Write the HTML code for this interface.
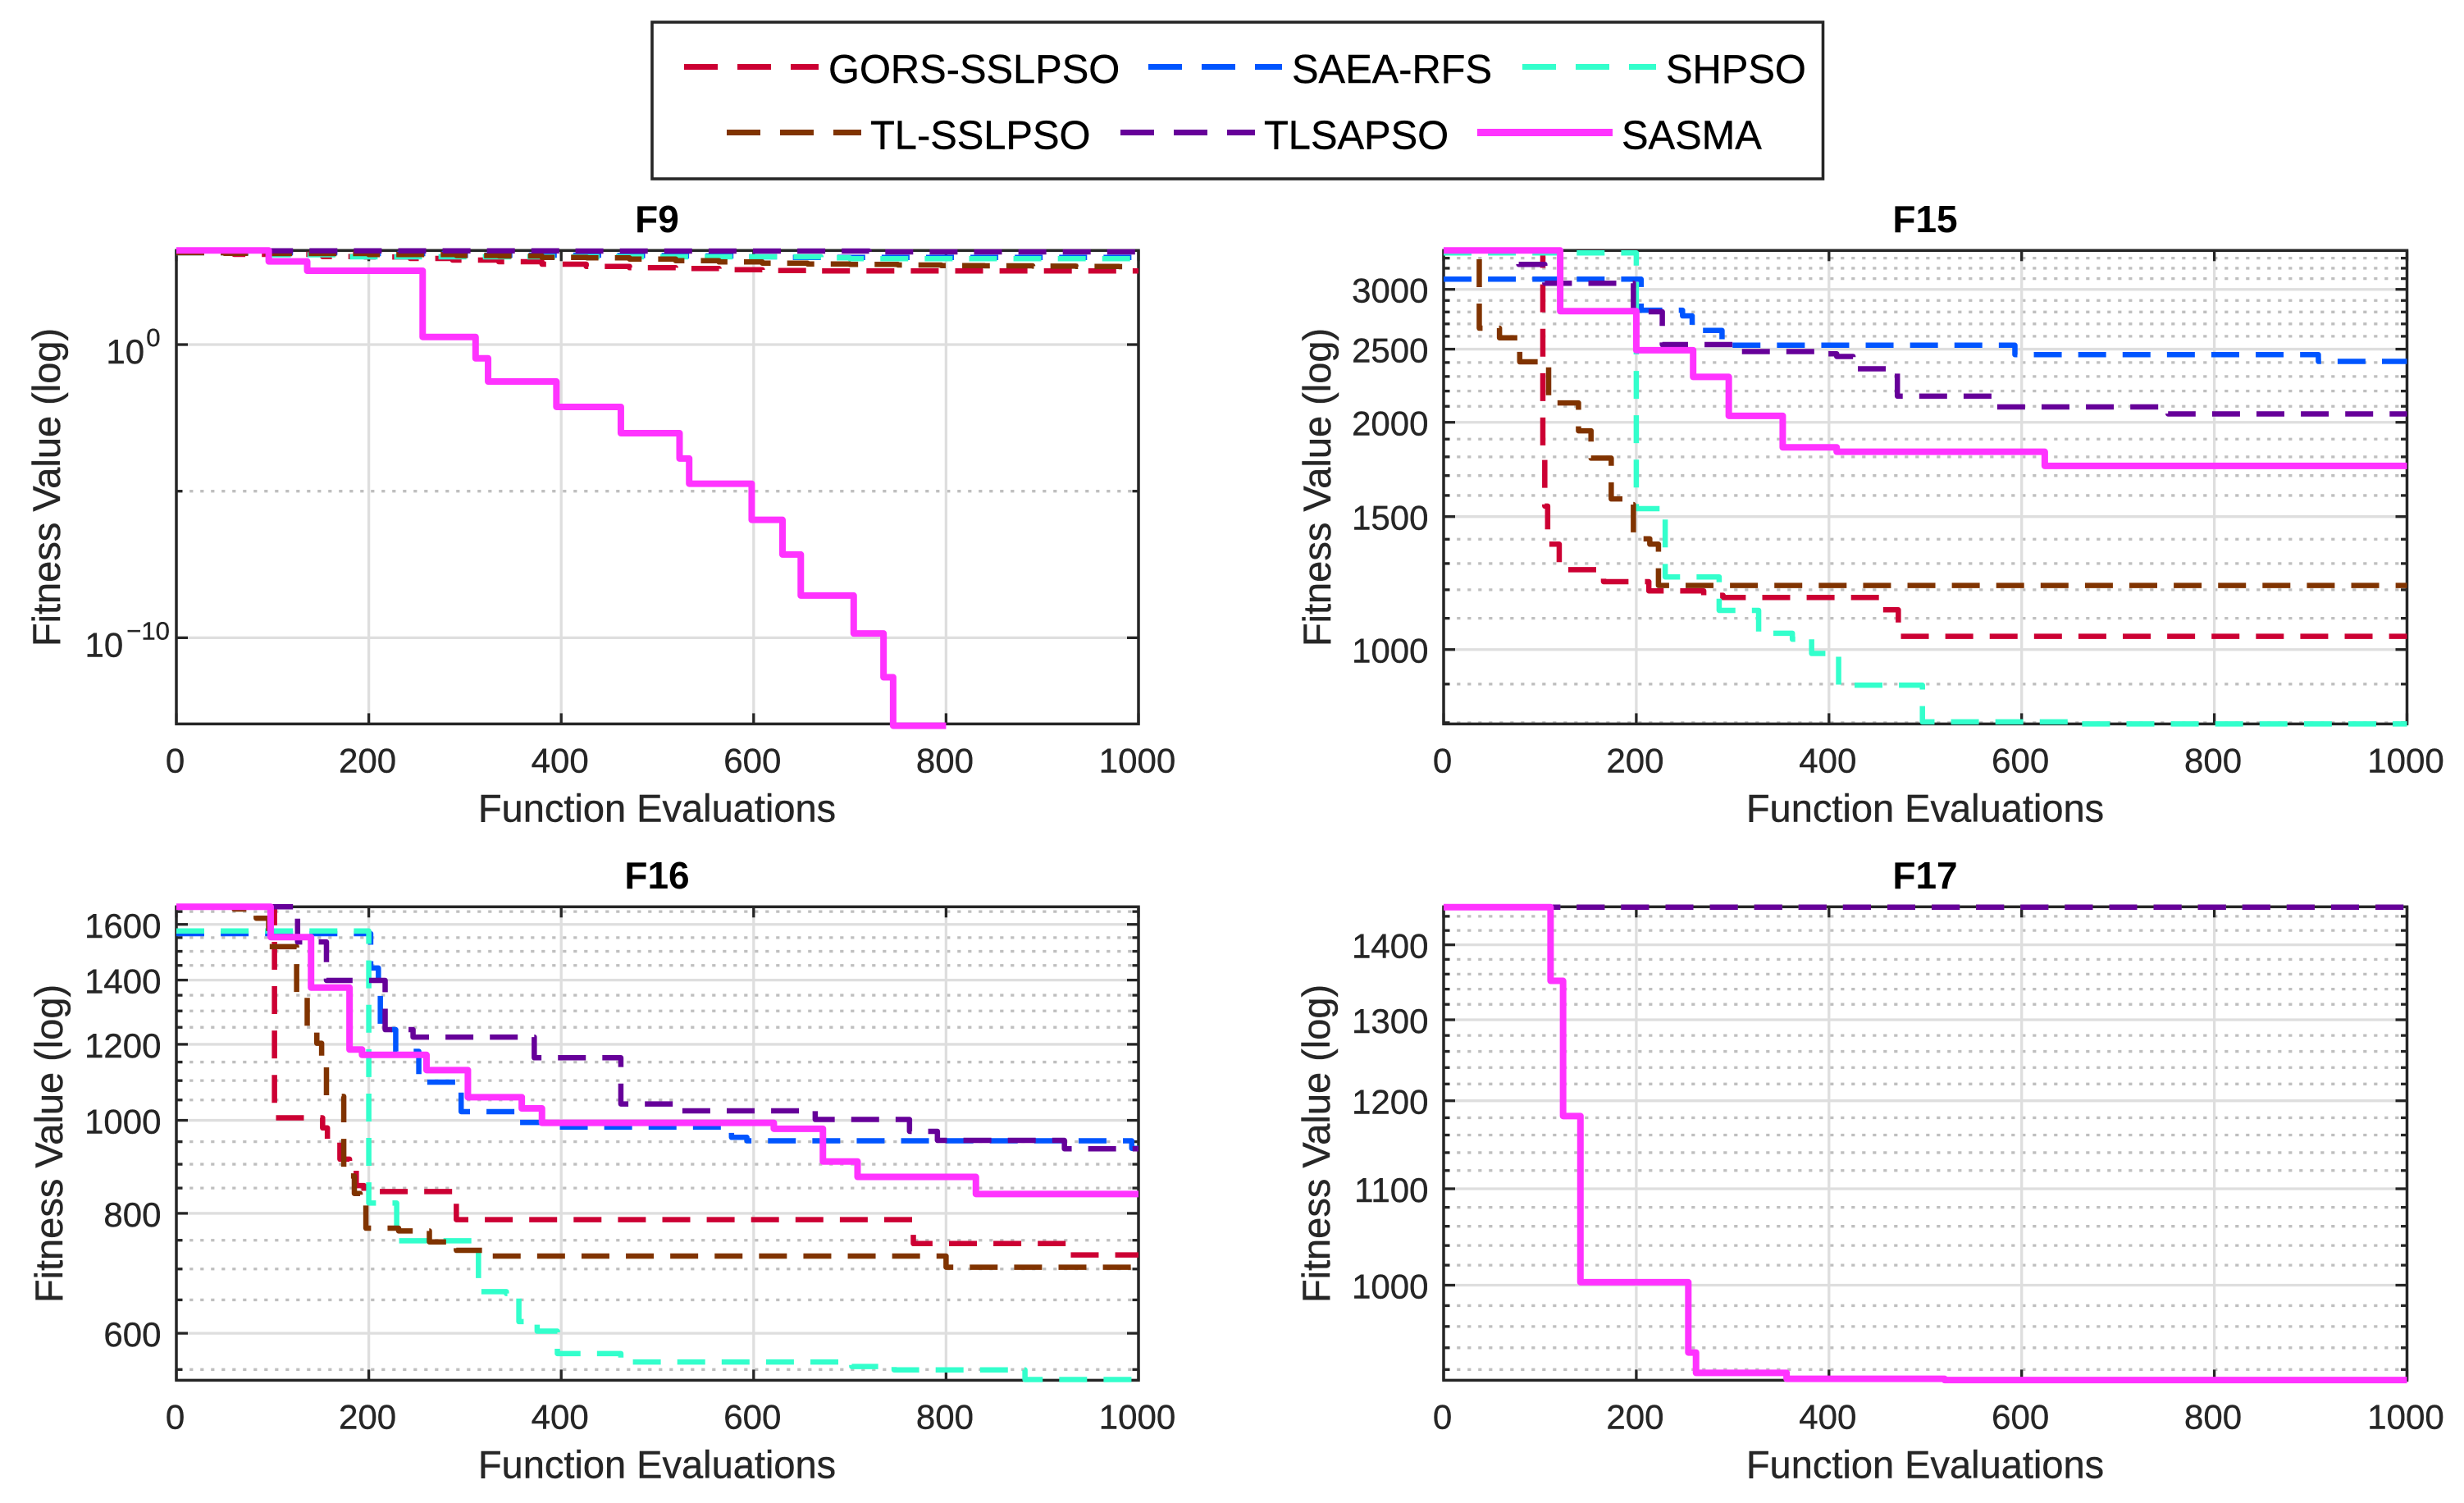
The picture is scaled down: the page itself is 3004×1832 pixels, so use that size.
<!DOCTYPE html>
<html lang="en">
<head>
<meta charset="utf-8">
<title>Convergence curves F9, F15, F16, F17</title>
<style>
html,body{margin:0;padding:0;background:#fff;}
svg{display:block;}
text{font-family:"Liberation Sans",Arial,sans-serif;fill:#262626;stroke:#262626;stroke-width:0.4px;}
.tick{font-size:42px;}
.sup{font-size:31px;}
.axis-title{font-size:47px;}
.panel-title{font-size:46px;font-weight:bold;fill:#000;stroke:none;}
.legend-text{font-size:48.8px;fill:#000;stroke:#000;}
</style>
</head>
<body>
<svg id="figure" xmlns="http://www.w3.org/2000/svg" width="3004" height="1832" viewBox="0 0 3004 1832">
  <rect x="0" y="0" width="3004" height="1832" fill="#ffffff"/>

  <g>
    <rect x="795" y="27" width="1427.5" height="191" fill="#fff" stroke="#262626" stroke-width="3.6"/>
    <g>
      <line x1="834" y1="81.5" x2="998" y2="81.5" stroke="#CC0033" stroke-width="7" stroke-dasharray="41 24"/>
      <text class="legend-text" x="1010" y="101">GORS-SSLPSO</text>
    </g>
    <g>
      <line x1="1400" y1="81.5" x2="1563" y2="81.5" stroke="#0055FF" stroke-width="7" stroke-dasharray="41 24"/>
      <text class="legend-text" x="1575" y="101">SAEA-RFS</text>
    </g>
    <g>
      <line x1="1856" y1="81.5" x2="2019" y2="81.5" stroke="#33FFCC" stroke-width="7" stroke-dasharray="41 24"/>
      <text class="legend-text" x="2031" y="101">SHPSO</text>
    </g>
    <g>
      <line x1="886" y1="161.5" x2="1050" y2="161.5" stroke="#803300" stroke-width="7" stroke-dasharray="41 24"/>
      <text class="legend-text" x="1061" y="181.5">TL-SSLPSO</text>
    </g>
    <g>
      <line x1="1366" y1="161.5" x2="1530" y2="161.5" stroke="#660099" stroke-width="7" stroke-dasharray="41 24"/>
      <text class="legend-text" x="1541" y="181.5">TLSAPSO</text>
    </g>
    <g>
      <line x1="1801" y1="161.5" x2="1966" y2="161.5" stroke="#FF33FF" stroke-width="9"/>
      <text class="legend-text" x="1977" y="181.5">SASMA</text>
    </g>
  </g>

  <g id="panel-f9">
    <text class="panel-title" x="801" y="283" text-anchor="middle">F9</text>
    <text class="axis-title" x="801" y="1001.5" text-anchor="middle">Function Evaluations</text>
    <text class="axis-title" transform="translate(73 594) rotate(-90)" text-anchor="middle">Fitness Value (log)</text>
  </g>
  <g id="panel-f15">
    <text class="panel-title" x="2347" y="283" text-anchor="middle">F15</text>
    <text class="axis-title" x="2347" y="1001.5" text-anchor="middle">Function Evaluations</text>
    <text class="axis-title" transform="translate(1622 594) rotate(-90)" text-anchor="middle">Fitness Value (log)</text>
  </g>
  <g id="panel-f16">
    <text class="panel-title" x="801" y="1083" text-anchor="middle">F16</text>
    <text class="axis-title" x="801" y="1801.5" text-anchor="middle">Function Evaluations</text>
    <text class="axis-title" transform="translate(76 1394) rotate(-90)" text-anchor="middle">Fitness Value (log)</text>
  </g>
  <g id="panel-f17">
    <text class="panel-title" x="2347" y="1083" text-anchor="middle">F17</text>
    <text class="axis-title" x="2347" y="1801.5" text-anchor="middle">Function Evaluations</text>
    <text class="axis-title" transform="translate(1621 1394) rotate(-90)" text-anchor="middle">Fitness Value (log)</text>
  </g>
</svg>

<script>
/* ---------- shared axis data ---------- */
const xTickValues = [0, 200, 400, 600, 800, 1000];

/* ---------- F9 ---------- */
const f9YMajor = [1e-10, 1];
const f9YMinor = [1e-5];
const f9YExponents = ["\u221210", "0"];
const f9GorsX = [0, 60, 152, 196, 243, 287, 335, 380, 426, 471, 519, 564, 609, 656];
const f9GorsY = [1549, 1199, 1007, 968, 869, 764, 671, 553, 465, 419, 393, 359, 337, 324];
const f9SaeaX = [0, 200, 300, 450, 520, 590, 640];
const f9SaeaY = [1365, 1279, 1125, 1089, 1054, 988, 944];
const f9ShpsoX = [0, 100, 180, 670, 700];
const f9ShpsoY = [1365, 1161, 988, 908, 851];
const f9TlX = [0, 50, 100, 200, 291, 335, 380, 427, 471, 519, 564, 609, 656, 700, 750, 795, 840, 890, 935, 980];
const f9TlY = [1365, 1303, 1279, 1175, 1089, 1054, 944, 908, 830, 729, 658, 601, 564, 542, 519, 495, 486, 476, 465, 456];
const f9TlsapsoX = [0, 400, 720];
const f9TlsapsoY = [1581, 1549, 1455];
const f9SasmaX = [0, 96, 136, 256, 311, 324, 395, 462, 523, 533, 598, 630, 649, 704, 735, 745, 800];
const f9SasmaY = [1622, 685, 330, 1.82, 0.34, 0.055, 7.5e-3, 9.5e-4, 1.3e-4, 1.8e-5, 1.05e-6, 6.9e-8, 2.75e-9, 1.4e-10, 4.5e-12, 1e-13, 1e-13];

/* ---------- F15 ---------- */
const f15YMajor = [1000, 1500, 2000, 2500, 3000];
const f15YMinor = [800, 900, 1100, 1200, 1300, 1400, 1600, 1700, 1800, 1900, 2100, 2200, 2300, 2400, 2600, 2700, 2800, 2900, 3100, 3200, 3300];
const f15GorsX = [0, 103, 105, 108, 120, 123, 166, 213, 270, 290, 453, 472];
const f15GorsY = [3378, 1787, 1549, 1379, 1290, 1276, 1230, 1196, 1180, 1172, 1129, 1041];
const f15SaeaX = [0, 205, 248, 258, 289, 593, 908];
const f15SaeaY = [3095, 2815, 2767, 2647, 2530, 2459, 2408];
const f15ShpsoX = [0, 200, 230, 286, 327, 362, 382, 410, 497, 655];
const f15ShpsoY = [3353, 1537, 1248, 1127, 1051, 1032, 988, 897, 802, 797];
const f15TlX = [0, 37, 58, 79, 109, 140, 153, 174, 186, 197, 214, 223];
const f15TlY = [3378, 2665, 2588, 2405, 2122, 1949, 1793, 1583, 1556, 1402, 1379, 1216];
const f15TlsapsoX = [0, 78, 105, 197, 227, 301, 390, 408, 425, 471, 572, 752];
const f15TlsapsoY = [3378, 3238, 3057, 2802, 2535, 2482, 2465, 2445, 2355, 2166, 2096, 2052];
const f15SasmaX = [0, 121, 200, 259, 296, 352, 408, 624];
const f15SasmaY = [3378, 2807, 2492, 2297, 2040, 1853, 1828, 1751];

/* ---------- F16 ---------- */
const f16YMajor = [600, 800, 1000, 1200, 1400, 1600];
const f16YMinor = [550, 650, 700, 750, 850, 900, 950, 1050, 1100, 1150, 1250, 1300, 1350, 1450, 1500, 1550, 1650];
const f16GorsX = [0, 102, 152, 157, 170, 180, 187, 195, 291, 766, 928];
const f16GorsY = [1669, 1006, 982, 953, 911, 902, 855, 843, 788, 744, 724];
const f16SaeaX = [0, 202, 210, 212, 228, 252, 259, 296, 356, 393, 577, 593, 993];
const f16SaeaY = [1565, 1441, 1350, 1243, 1180, 1116, 1096, 1021, 995, 984, 960, 952, 935];
const f16ShpsoX = [0, 200, 229, 314, 343, 356, 375, 396, 462, 702, 746, 882];
const f16ShpsoY = [1575, 820, 749, 663, 660, 617, 603, 571.5, 560, 554, 549.5, 537];
const f16TlX = [0, 60, 83, 96, 125, 136, 146, 151, 156, 174, 185, 191, 197, 231, 263, 291, 326, 800];
const f16TlY = [1669, 1660, 1624, 1517, 1343, 1239, 1203, 1149, 1059, 875, 839, 822, 772, 767, 747, 732, 722, 703];
const f16TlsapsoX = [0, 126, 156, 217, 246, 372, 462, 525, 664, 762, 791, 923];
const f16TlsapsoY = [1669, 1534, 1399, 1243, 1221, 1162, 1040, 1023, 1002, 974, 953, 934];
const f16SasmaX = [0, 98, 140, 180, 193, 260, 303, 359, 380, 621, 672, 708, 831];
const f16SasmaY = [1669, 1552, 1375, 1185, 1170, 1128, 1057, 1029, 994, 980, 906, 873, 838];

/* ---------- F17 ---------- */
const f17YMajor = [1000, 1100, 1200, 1300, 1400];
const f17YMinor = [920, 940, 960, 980, 1020, 1040, 1060, 1080, 1120, 1140, 1160, 1180, 1220, 1240, 1260, 1280, 1320, 1340, 1360, 1380, 1420, 1440];
const f17GorsX = [0];
const f17GorsY = [1453];
const f17SaeaX = [0];
const f17SaeaY = [1453];
const f17ShpsoX = [0];
const f17ShpsoY = [1453];
const f17TlX = [0];
const f17TlY = [1453];
const f17TlsapsoX = [0];
const f17TlsapsoY = [1453];
const f17SasmaX = [0, 111, 124, 142, 254, 262, 356, 520];
const f17SasmaY = [1453, 1351, 1182, 1003, 935.6, 917, 911.6, 910.5];

/* ---------- series styling ---------- */
const seriesNames = ["gors-sslpso", "saea-rfs", "shpso", "tl-sslpso", "tlsapso", "sasma"];
const seriesColors = ["#CC0033", "#0055FF", "#33FFCC", "#803300", "#660099", "#FF33FF"];

/* ---------- panels ---------- */
const panels = [
  { id: "f9", x0: 215, x1: 1388, yTop: 305.3, yBottom: 882.4, yMin: 1.15e-13, yMax: 1622,
    major: f9YMajor, minor: f9YMinor, exponents: f9YExponents,
    xs: [f9GorsX, f9SaeaX, f9ShpsoX, f9TlX, f9TlsapsoX, f9SasmaX],
    ys: [f9GorsY, f9SaeaY, f9ShpsoY, f9TlY, f9TlsapsoY, f9SasmaY], sasmaEnd: 800 },
  { id: "f15", x0: 1760, x1: 2934.5, yTop: 305.3, yBottom: 882.4, yMin: 797, yMax: 3378,
    major: f15YMajor, minor: f15YMinor,
    xs: [f15GorsX, f15SaeaX, f15ShpsoX, f15TlX, f15TlsapsoX, f15SasmaX],
    ys: [f15GorsY, f15SaeaY, f15ShpsoY, f15TlY, f15TlsapsoY, f15SasmaY], sasmaEnd: 1000 },
  { id: "f16", x0: 215, x1: 1388, yTop: 1105.3, yBottom: 1682.4, yMin: 536, yMax: 1669,
    major: f16YMajor, minor: f16YMinor,
    xs: [f16GorsX, f16SaeaX, f16ShpsoX, f16TlX, f16TlsapsoX, f16SasmaX],
    ys: [f16GorsY, f16SaeaY, f16ShpsoY, f16TlY, f16TlsapsoY, f16SasmaY], sasmaEnd: 1000 },
  { id: "f17", x0: 1760, x1: 2934.5, yTop: 1105.3, yBottom: 1682.4, yMin: 910.3, yMax: 1453.6,
    major: f17YMajor, minor: f17YMinor,
    xs: [f17GorsX, f17SaeaX, f17ShpsoX, f17TlX, f17TlsapsoX, f17SasmaX],
    ys: [f17GorsY, f17SaeaY, f17ShpsoY, f17TlY, f17TlsapsoY, f17SasmaY], sasmaEnd: 1000 }
];

const SVG_NS = "http://www.w3.org/2000/svg";
const AXIS_COLOR = "#262626";

function mk(parent, tag, attrs, txt) {
  const el = document.createElementNS(SVG_NS, tag);
  for (const k in attrs) el.setAttribute(k, attrs[k]);
  if (txt !== undefined) el.textContent = txt;
  parent.appendChild(el);
  return el;
}
function xScale(p, v) {
  return p.x0 + (v / 1000) * (p.x1 - p.x0);
}
function yScale(p, v) {
  const lo = Math.log10(p.yMin), hi = Math.log10(p.yMax);
  return p.yBottom - (Math.log10(v) - lo) / (hi - lo) * (p.yBottom - p.yTop);
}
function stairPath(p, xs, ys, endX) {
  let d = "M" + xScale(p, xs[0]).toFixed(2) + " " + yScale(p, ys[0]).toFixed(2);
  for (let i = 1; i < xs.length; i++) {
    d += " H" + xScale(p, xs[i]).toFixed(2) + " V" + yScale(p, ys[i]).toFixed(2);
  }
  d += " H" + xScale(p, endX).toFixed(2);
  return d;
}

function drawPanel(p) {
  const g = document.getElementById("panel-" + p.id);

  /* minor horizontal grid */
  p.minor.forEach(function (v) {
    const y = yScale(p, v);
    const el = mk(g, "line", { x1: p.x0, x2: p.x1, y1: y, y2: y, stroke: "#bfbfbf", "stroke-width": 3.3, "stroke-dasharray": "4.2 8.8", "stroke-dashoffset": -3.2 });
    
    
  });
  /* major horizontal grid */
  p.major.forEach(function (v) {
    const y = yScale(p, v);
    const el = mk(g, "line", { x1: p.x0, x2: p.x1, y1: y, y2: y, stroke: "#dedede", "stroke-width": 3.3 });
    
    
  });
  /* vertical grid */
  xTickValues.forEach(function (v) {
    const x = xScale(p, v);
    const el = mk(g, "line", { x1: x, x2: x, y1: p.yTop, y2: p.yBottom, stroke: "#dedede", "stroke-width": 3.3 });
    
    
  });

  /* axes box */
  const box = mk(g, "rect", { x: p.x0, y: p.yTop, width: p.x1 - p.x0, height: p.yBottom - p.yTop, fill: "none", stroke: AXIS_COLOR, "stroke-width": 3.5 });
  
  

  /* x ticks and labels */
  xTickValues.forEach(function (v) {
    const x = xScale(p, v);
    const tb = mk(g, "line", { x1: x, x2: x, y1: p.yBottom, y2: p.yBottom - 13, stroke: AXIS_COLOR, "stroke-width": 3.3 });
    
    
    const tt = mk(g, "line", { x1: x, x2: x, y1: p.yTop, y2: p.yTop + 13, stroke: AXIS_COLOR, "stroke-width": 3.3 });
    
    
    const lb = mk(g, "text", { class: "tick", x: x - 1.5, y: p.yBottom + 59.3, "text-anchor": "middle" }, String(v));
    
    
  });

  /* y ticks */
  p.major.forEach(function (v, i) {
    const y = yScale(p, v);
    [[p.x0, p.x0 + 14], [p.x1, p.x1 - 14]].forEach(function (s) {
      const t = mk(g, "line", { x1: s[0], x2: s[1], y1: y, y2: y, stroke: AXIS_COLOR, "stroke-width": 3.3 });
      
      
    });
    if (p.exponents) {
      const exp = p.exponents[i];
      const right = 195.5 + (exp.length - 1) * 5.7;
      const sup = mk(g, "text", { class: "sup", x: right, y: y + 2, "text-anchor": "end" }, exp);
      
      
      const base = mk(g, "text", { class: "tick", x: right - exp.length * 16.4 - 3 - (exp.length > 1 ? 4.5 : 0), y: y + 23, "text-anchor": "end" }, "10");
      
      
    } else {
      const lb = mk(g, "text", { class: "tick", x: p.x0 - 18.5, y: y + 16, "text-anchor": "end" }, String(v));
      
      
    }
  });
  p.minor.forEach(function (v) {
    const y = yScale(p, v);
    [[p.x0, p.x0 + 7.5], [p.x1, p.x1 - 7.5]].forEach(function (s) {
      const t = mk(g, "line", { x1: s[0], x2: s[1], y1: y, y2: y, stroke: AXIS_COLOR, "stroke-width": 3.3 });
      
      
    });
  });

  /* series */
  seriesNames.forEach(function (name, i) {
    const isSolid = name === "sasma";
    const end = isSolid ? p.sasmaEnd : 1000;
    const attrs = { d: stairPath(p, p.xs[i], p.ys[i], end), fill: "none", stroke: seriesColors[i], "stroke-width": isSolid ? 8 : 6.5, "stroke-linejoin": "round" };
    if (!isSolid) attrs["stroke-dasharray"] = "34 20.1";
    const path = mk(g, "path", attrs);
    
    
  });
}

panels.forEach(drawPanel);
</script>
</body>
</html>
